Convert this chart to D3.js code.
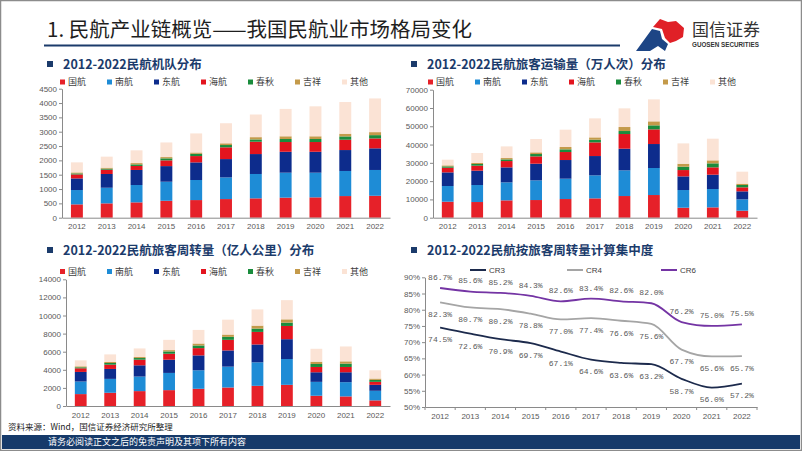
<!DOCTYPE html>
<html><head><meta charset="utf-8">
<script src="https://cdn.jsdelivr.net/npm/d3@7"></script>
<style>body{margin:0;background:#fff}svg{display:block}</style>
</head><body><svg id="c" width="802" height="451"></svg>
<script>
const years = ['2012','2013','2014','2015','2016','2017','2018','2019','2020','2021','2022'];
const airlines = ['国航','南航','东航','海航','春秋','吉祥','其他'];
const airlineColors = ['#e62129','#1e8cd6','#0d2c8c','#e3141e','#1a8c3c','#c49a4a','#fbe3d5'];

// 民航机队（架）
const fleetCA = [465,500,535,590,615,650,675,700,710,755,765];
const fleetCZ = [500,545,605,665,700,755,850,870,860,875,900];
const fleetMU = [405,480,525,545,615,640,695,730,730,730,755];
const fleetHU = [140,150,140,200,220,410,430,340,340,360,345];
const fleet9C = [35,35,55,70,80,80,80,105,105,115,115];
const fleetHO = [35,35,45,45,45,60,80,95,95,95,105];
const fleetOther = [350,385,445,510,665,700,790,955,1045,1105,1175];
const fleetTicks = [0,500,1000,1500,2000,2500,3000,3500,4000,4500];

// 旅客运输量（万人次）
const paxCA = [8750,8570,9480,9660,10210,10570,11850,12400,5470,5650,3830];
const paxCZ = [8570,9300,9840,10760,11120,12580,14040,14770,9660,10030,6200];
const paxMU = [7470,7840,8200,9110,10210,10570,11850,13120,7470,7840,4380];
const paxHU = [2550,2740,3460,4010,4380,7470,8020,8020,3460,4010,2190];
const pax9C = [730,910,910,1280,1460,1460,1640,2190,1820,2190,1280];
const paxHO = [550,550,730,910,1280,1280,2190,2190,1640,1640,730];
const paxOther = [3100,5470,6380,7290,9480,10390,10210,12030,11120,11850,6560];
const paxTicks = [0,10000,20000,30000,40000,50000,60000,70000];

// 旅客周转量（亿人公里）
const rpkCA = [1316,1462,1645,1754,1901,2047,2230,2339,1133,1060,621];
const rpkCZ = [1389,1535,1608,1901,2046,2302,2595,2851,1535,1572,1060];
const rpkMU = [1060,1097,1243,1462,1645,1791,1973,2193,1060,1096,658];
const rpkHU = [402,475,621,658,804,1170,1389,1462,585,585,329];
const rpk9C = [109,183,183,256,293,329,366,366,329,365,219];
const rpkHO = [110,109,110,146,219,256,329,365,256,256,147];
const rpkOther = [658,841,950,1133,1499,1645,1791,2120,1425,1645,913];
const rpkTicks = [0,2000,4000,6000,8000,10000,12000,14000];

// 集中度（%）
const cr3 = [74.5,72.6,70.9,69.7,67.1,64.6,63.6,63.2,58.7,56.0,57.2];
const cr4 = [82.3,80.7,80.2,78.8,77.0,77.4,76.6,75.6,67.7,65.6,65.7];
const cr6 = [86.7,85.6,85.2,84.3,82.6,83.4,82.6,82.0,76.2,75.0,75.5];
const crTicks = [50,55,60,65,70,75,80,85,90];

const svg = d3.select('#c');
const cjk = '"Noto Sans CJK SC","Noto Sans",sans-serif';
const latin = '"Liberation Sans",Arial,sans-serif';
const navy = '#1b3b6b';
const axisGray = '#8a8a8a';
const txtGray = '#595959';

// frame
svg.append('rect').attr('x',0.5).attr('y',0.5).attr('width',801).attr('height',450)
  .attr('fill','#fff').attr('stroke','#8c8c8c').attr('stroke-width',1.5);

// header
svg.append('text').attr('x',47).attr('y',37).attr('font-family',cjk).attr('font-size',20.5)
  .attr('fill','#1e1e1e').text('1. 民航产业链概览——我国民航业市场格局变化');
svg.append('line').attr('x1',44).attr('x2',620).attr('y1',45.5).attr('y2',45.5)
  .attr('stroke',navy).attr('stroke-width',2);

// logo
svg.append('path').attr('d','M636,51 L652,29 L660,31 L662,39 L668,44 L665,51 L658,46 L650,51 Z').attr('fill','#1d4585');
svg.append('path').attr('d','M653,27 L660,19 L668,22 L676,21 L684,28 L683,37 L676,41 L670,43 L665,38 L662,29 Z').attr('fill','#e02027');
svg.append('text').attr('x',692).attr('y',36).attr('font-family',cjk).attr('font-size',17)
  .attr('fill','#333').text('国信证券');
svg.append('text').attr('x',692).attr('y',47).attr('font-family',latin).attr('font-size',6.3)
  .attr('font-weight','bold').attr('fill','#333').text('GUOSEN SECURITIES');

function chartTitle(x, cy, label){
  svg.append('rect').attr('x',x).attr('y',cy-3).attr('width',6).attr('height',6).attr('fill',navy);
  svg.append('text').attr('x',x+16).attr('y',cy).attr('dy','0.36em').attr('font-family',cjk)
    .attr('font-size',12.5).attr('font-weight','bold').attr('fill',navy).text(label);
}

function styleAxis(g){
  g.select('.domain').attr('stroke',axisGray);
  g.selectAll('.tick line').attr('stroke',axisGray);
  g.selectAll('.tick text').attr('fill',txtGray).attr('font-family',latin).attr('font-size',8);
}

function stackChart(o){
  const g = svg.append('g');
  const x = d3.scaleBand().domain(years).range([o.left,o.right]).paddingInner(0.6).paddingOuter(0.3);
  const y = d3.scaleLinear().domain([0,o.ticks[o.ticks.length-1]]).range([o.bottom,o.top]);
  const rows = years.map((yr,i)=>{const r={year:yr}; airlines.forEach((a,k)=>r[a]=o.series[k][i]); return r;});
  const stacked = d3.stack().keys(airlines)(rows);
  g.selectAll('g.layer').data(stacked).join('g').attr('class','layer')
    .attr('fill',(d,i)=>airlineColors[i])
    .selectAll('rect').data(d=>d).join('rect')
    .attr('x',d=>x(d.data.year)).attr('width',x.bandwidth())
    .attr('y',d=>y(d[1])).attr('height',d=>y(d[0])-y(d[1]));
  const ya = g.append('g').attr('transform',`translate(${o.left},0)`)
    .call(d3.axisLeft(y).tickValues(o.ticks).tickSize(3).tickSizeOuter(0).tickPadding(2).tickFormat(d3.format('d')));
  styleAxis(ya);
  const xa = g.append('g').attr('transform',`translate(0,${o.bottom})`)
    .call(d3.axisBottom(x).tickSize(0).tickSizeOuter(0).tickPadding(6));
  styleAxis(xa);
  airlines.forEach((a,i)=>{
    const lx = o.legendX + i*47;
    svg.append('rect').attr('x',lx).attr('y',o.legendY-2.5).attr('width',5).attr('height',5).attr('fill',airlineColors[i]);
    svg.append('text').attr('x',lx+8).attr('y',o.legendY).attr('dy','0.35em').attr('font-family',cjk)
      .attr('font-size',9).attr('fill','#404040').text(a);
  });
}

chartTitle(47, 64, '2012-2022民航机队分布');
stackChart({left:62,right:390,top:88.7,bottom:217.7,ticks:fleetTicks,
  series:[fleetCA,fleetCZ,fleetMU,fleetHU,fleet9C,fleetHO,fleetOther],legendX:60,legendY:82});

chartTitle(411, 64, '2012-2022民航旅客运输量（万人次）分布');
stackChart({left:433,right:757,top:89.7,bottom:217.7,ticks:paxTicks,
  series:[paxCA,paxCZ,paxMU,paxHU,pax9C,paxHO,paxOther],legendX:428,legendY:82});

chartTitle(47, 250, '2012-2022民航旅客周转量（亿人公里）分布');
stackChart({left:66,right:390,top:279.3,bottom:406,ticks:rpkTicks,
  series:[rpkCA,rpkCZ,rpkMU,rpkHU,rpk9C,rpkHO,rpkOther],legendX:60,legendY:271.5});

// line chart
chartTitle(411, 250, '2012-2022民航按旅客周转量计算集中度');
(function(){
  const left=425,right=757,top=277.3,bottom=407;
  const x = d3.scaleBand().domain(years).range([left,right]).padding(0);
  const y = d3.scaleLinear().domain([50,90]).range([bottom,top]);
  const g = svg.append('g');
  const ya = g.append('g').attr('transform',`translate(${left},0)`)
    .call(d3.axisLeft(y).tickValues(crTicks).tickSize(3).tickSizeOuter(0).tickPadding(2).tickFormat(d=>d+'%'));
  styleAxis(ya);
  const xa = g.append('g').attr('transform',`translate(0,${bottom})`)
    .call(d3.axisBottom(x).tickSize(0).tickSizeOuter(0).tickPadding(6));
  styleAxis(xa);
  const edges = years.map(d=>x(d)).concat([x(years[years.length-1])+x.bandwidth()]);
  g.selectAll('line.xt').data(edges).join('line').attr('class','xt')
    .attr('x1',d=>d).attr('x2',d=>d).attr('y1',bottom).attr('y2',bottom+3).attr('stroke',axisGray);
  const series = [
    {name:'CR3',vals:cr3,color:'#1c2a4c',dy:12},
    {name:'CR4',vals:cr4,color:'#a5a5a5',dy:12},
    {name:'CR6',vals:cr6,color:'#7434a4',dy:-11}
  ];
  const line = d3.line().x((d,i)=>x(years[i])+x.bandwidth()/2).y(d=>y(d)).curve(d3.curveMonotoneX);
  series.forEach(s=>{
    g.append('path').datum(s.vals).attr('d',line).attr('fill','none').attr('stroke',s.color).attr('stroke-width',1.8);
    g.selectAll(null).data(s.vals).join('text')
      .attr('x',(d,i)=>x(years[i])+x.bandwidth()/2).attr('y',d=>y(d)+s.dy).attr('dy','0.35em')
      .attr('text-anchor','middle').attr('font-family','"Liberation Mono","DejaVu Sans Mono",monospace')
      .attr('font-size',8).attr('fill',txtGray).text(d=>d.toFixed(1)+'%');
  });
  const legX = [470,567,661];
  series.forEach((s,i)=>{
    svg.append('line').attr('x1',legX[i]).attr('x2',legX[i]+16).attr('y1',270).attr('y2',270)
      .attr('stroke',s.color).attr('stroke-width',2);
    svg.append('text').attr('x',legX[i]+19).attr('y',270).attr('dy','0.35em').attr('font-family',latin)
      .attr('font-size',8).attr('fill','#404040').text(s.name);
  });
})();

// source and footer
svg.append('text').attr('x',8).attr('y',427.5).attr('dy','0.35em').attr('font-family',cjk).attr('font-size',8.5)
  .attr('fill','#222').text('资料来源：Wind，国信证券经济研究所整理');
svg.append('rect').attr('x',2).attr('y',435).attr('width',798).attr('height',14).attr('fill','#163a6a');
svg.append('text').attr('x',48).attr('y',442).attr('dy','0.35em').attr('font-family',cjk).attr('font-size',9)
  .attr('fill','#fff').text('请务必阅读正文之后的免责声明及其项下所有内容');
</script></body></html>
